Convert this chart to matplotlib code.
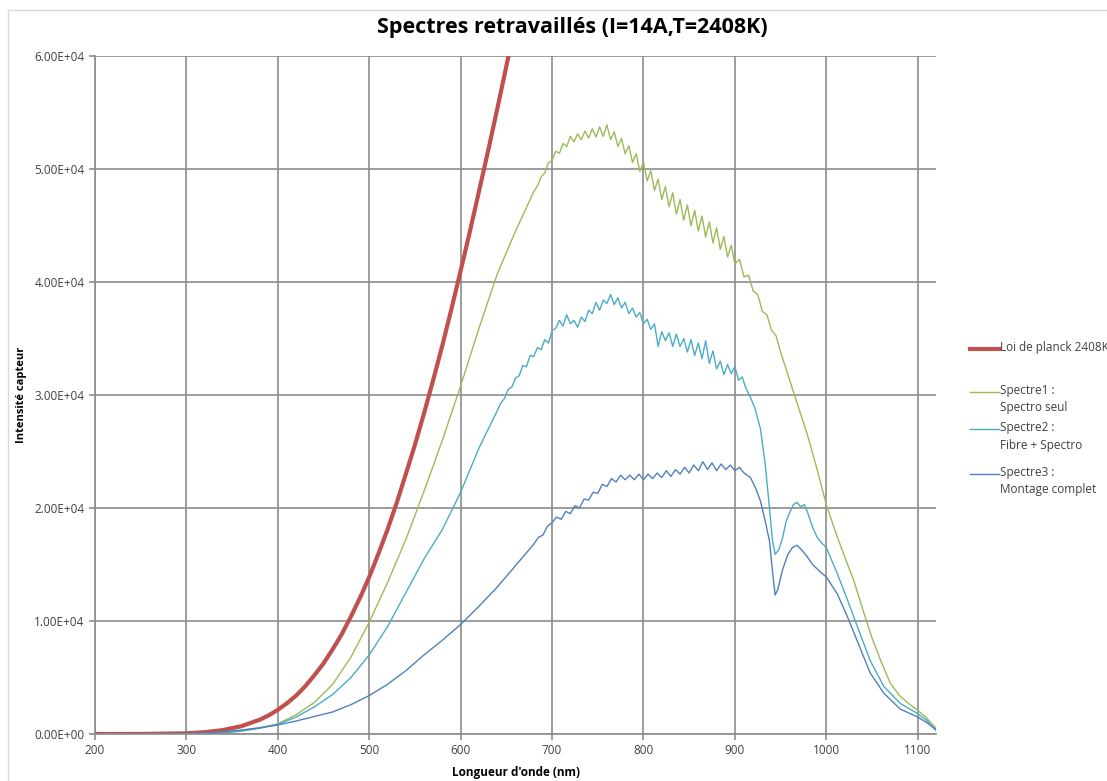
import matplotlib
matplotlib.use("Agg")
import matplotlib.pyplot as plt
from matplotlib.lines import Line2D
from matplotlib.patches import Rectangle
from matplotlib.ticker import FuncFormatter, MultipleLocator

plt.rcParams['font.family'] = ['Open Sans', 'DejaVu Sans']

# Loi de Planck
planck_nm = [200, 250, 300, 320, 340, 360, 380, 390, 400, 410, 420, 430, 440, 450, 460,
             470, 480, 490, 500, 510, 520, 530, 540, 550, 560, 570, 580, 590, 600, 610,
             620, 630, 640, 650, 660]
planck_val = [0, 3, 60, 160, 350, 690, 1260, 1650, 2140, 2720, 3400, 4230, 5200, 6250, 7500,
              8840, 10400, 12070, 13900, 15940, 18100, 20440, 23000, 25600, 28400, 31340, 34400, 37650, 41000, 44430,
              48000, 51600, 55300, 59100, 62900]

# Spectre1 : Spectro seul
s1_nm = [200, 250, 300, 320, 340, 360, 380, 400, 420, 440, 460, 480, 500, 520, 540, 560, 580, 600, 620, 640, 660,
         680, 684, 688, 692, 696, 700, 704, 708, 712, 716, 720, 724, 728, 732, 736, 740, 744, 748, 752, 756,
         760, 764, 768, 772, 776, 780, 784, 788, 792, 796, 800, 804, 808, 812, 816, 820, 824, 828, 832, 836,
         840, 844, 848, 852, 856, 860, 864, 868, 872, 876, 880, 884, 888, 892, 896, 900, 905, 910, 915, 920,
         925, 930, 935, 940, 945, 950, 960, 970, 980, 990, 1000, 1010, 1020, 1030, 1040, 1050, 1060, 1070,
         1080, 1090, 1100, 1110, 1120]
s1_val = [0, 0, 0, 30, 120, 300, 550, 900, 1700, 2800, 4400, 6800, 9900, 13400, 17200, 21500, 26000, 30800, 35900, 40700, 44500,
          48000, 48500, 49300, 49650, 50550, 50750, 51570, 51390, 52260, 51980, 52900, 52400, 53100, 52600, 53350, 52750, 53560, 52820, 53730, 52890,
          53900, 52600, 53300, 52000, 52700, 51350, 52070, 50590, 51360, 49780, 50600, 48950, 49850, 48100, 49100, 47300, 48450, 46650, 47900, 46000,
          47300, 45460, 46820, 44980, 46340, 44500, 45840, 43980, 45320, 43460, 44800, 42890, 44030, 42220, 43260, 41600, 42000, 40450, 40600, 39200,
          38900, 37400, 37100, 35750, 35250, 33800, 31300, 28800, 26300, 23400, 20300, 17900, 15700, 13600, 11000, 8500, 6400, 4500,
          3400, 2700, 2100, 1400, 500]

# Spectre2 : Fibre + Spectro
s2_nm = [200, 250, 300, 320, 340, 360, 380, 400, 420, 440, 460, 480, 500, 520, 540, 560, 580, 600, 620,
         640, 644, 648, 652, 656, 660, 664, 668, 672, 676, 680, 684, 688, 692, 696, 700, 704, 708, 712, 716,
         720, 724, 728, 732, 736, 740, 744, 748, 752, 756, 760, 764, 768, 772, 776, 780, 784, 788, 792, 796,
         800, 804, 808, 812, 816, 820, 824, 828, 832, 836, 840, 844, 848, 852, 856, 860, 864, 868, 872, 876,
         880, 884, 888, 892, 896, 900, 904, 908, 912, 917, 922, 928, 933, 937, 941, 944, 948, 952, 956, 960,
         964, 968, 972, 976, 980, 985, 990, 995, 1000, 1012, 1023, 1034, 1048, 1063, 1081, 1100, 1110, 1120]
s2_val = [0, 0, 0, 20, 100, 250, 500, 850, 1500, 2400, 3500, 5000, 7000, 9500, 12500, 15500, 18100, 21400, 25300,
          28600, 29300, 29700, 30500, 30700, 31500, 31700, 32600, 32500, 33500, 33400, 34200, 34000, 34900, 34600, 35700, 35900, 36600, 36100, 37100,
          36300, 36600, 36000, 36900, 36500, 37500, 37200, 38200, 37500, 38400, 38100, 38900, 38000, 38600, 37700, 38200, 37200, 37700, 36900, 37300,
          36300, 36700, 35800, 36300, 34300, 35600, 34800, 35500, 34300, 35400, 34300, 35000, 33800, 34900, 33500, 34600, 33200, 34800, 32800, 33900,
          32300, 33000, 31800, 32700, 31900, 32500, 31300, 31600, 30600, 29800, 28800, 27000, 24000, 20700, 17200, 15900, 16300, 17300, 18800, 19600,
          20300, 20500, 20100, 20300, 19500, 18300, 17400, 16900, 16500, 14200, 11900, 9500, 6500, 4200, 2700, 1800, 1200, 300]

# Spectre3 : Montage complet
s3_nm = [200, 250, 300, 320, 340, 360, 380, 400, 420, 440, 460, 480, 500, 520, 540, 560, 580, 600, 620, 640, 660,
         680, 685, 690, 695, 700, 705, 710, 715, 720, 725, 730, 735, 740, 745, 750, 755, 760, 765, 770, 775,
         780, 785, 790, 795, 800, 805, 810, 815, 820, 825, 830, 835, 840, 845, 850, 855, 860, 865, 870, 875,
         880, 885, 890, 895, 900, 905, 910, 917, 923, 928, 933, 938, 941, 944, 947, 952, 958, 963, 968, 973,
         979, 985, 994, 1000, 1012, 1023, 1034, 1048, 1063, 1081, 1100, 1110, 1120]
s3_val = [0, 20, 50, 100, 200, 350, 550, 800, 1150, 1550, 1950, 2600, 3400, 4400, 5600, 7000, 8300, 9700, 11300, 13000, 14900,
          16800, 17400, 17600, 18400, 18700, 19200, 19000, 19700, 19500, 20200, 20000, 20800, 20700, 21400, 21300, 22100, 21900, 22600, 22300, 22900,
          22500, 22900, 22500, 23000, 22500, 23000, 22600, 23100, 22700, 23300, 22800, 23400, 23000, 23600, 23100, 23800, 23300, 24100, 23400, 24000,
          23300, 23900, 23400, 23800, 23300, 23600, 23100, 22700, 21700, 20600, 18900, 17000, 14500, 12300, 12800, 14500, 15900, 16500, 16700, 16300,
          15700, 15000, 14300, 13900, 12400, 10400, 8200, 5400, 3600, 2200, 1500, 1000, 400]

labels = ["Loi de planck 2408K", "Spectre1 :\nSpectro seul", "Spectre2 :\nFibre + Spectro",
          "Spectre3 :\nMontage complet"]
colors = ["#C0504D", "#9BBB59", "#4BACC6", "#4F81BD"]
widths = [3.0, 1.0, 1.0, 1.0]

fig = plt.figure(figsize=(11.07, 7.81), dpi=100)
ax = fig.add_axes([95 / 1107, 1 - 734 / 781, (936 - 95) / 1107, (734 - 56) / 781])

# chart frame
fig.add_artist(Rectangle((8 / 1107, -0.05), 1.1, 1 - 10 / 781 + 0.05, transform=fig.transFigure,
                         fill=False, edgecolor="#D9D9D9", lw=1.0))

series = [(planck_nm, planck_val), (s1_nm, s1_val), (s2_nm, s2_val), (s3_nm, s3_val)]
for (xs, ys), c, w in zip(series, colors, widths):
    ax.plot(xs, ys, color=c, lw=w, solid_joinstyle="round")

ax.set_xlim(200, 1120)
ax.set_ylim(0, 60000)
ax.xaxis.set_major_locator(MultipleLocator(100))
ax.yaxis.set_major_locator(MultipleLocator(10000))
ax.yaxis.set_major_formatter(FuncFormatter(lambda v, p: f"{v:.2E}"))
ax.grid(True, color="#8C8C8C", lw=1.2)
ax.set_axisbelow(True)
for s in ["top", "right"]:
    ax.spines[s].set_visible(False)
for s in ["left", "bottom"]:
    ax.spines[s].set_color("#8C8C8C")
    ax.spines[s].set_linewidth(1.2)
ax.tick_params(colors="#8C8C8C", labelcolor="#404040", labelsize=8.5, length=4, width=1.2)

ax.set_xlabel("Longueur d'onde (nm)", fontsize=8.5, fontweight="bold", color="#000000", labelpad=6)
ax.set_ylabel("Intensité capteur", fontsize=8, fontweight="bold", color="#000000", labelpad=5)
fig.text(572 / 1107, 1 - 27 / 781, "Spectres retravaillés (I=14A,T=2408K)",
         ha="center", va="center", fontsize=15.5, fontweight="bold")

# legend drawn by hand so the line sits on the first text line
handle_y = [349, 392, 429, 474]
for lab, c, w, yy in zip(labels, colors, widths, handle_y):
    yf = 1 - yy / 781
    fig.add_artist(Line2D([970 / 1107, 999 / 1107], [yf, yf], transform=fig.transFigure, color=c, lw=w))
    fig.text(1000 / 1107, yf + 8 / 781, lab, ha="left", va="top", fontsize=8.5, color="#404040",
             linespacing=1.45)

fig.savefig("out.png", dpi=100)
